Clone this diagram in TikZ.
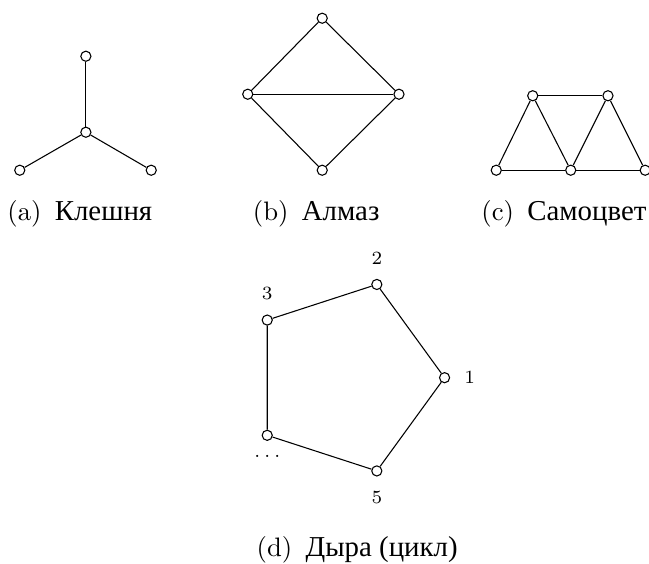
\documentclass[tikz,border=0pt]{standalone}
\usepackage{fontspec}
\newfontfamily\cyr[Scale=1.08]{Liberation Serif}
\usetikzlibrary{positioning, calc}
\tikzset{
	vtx/.style   ={circle, draw=black, fill=white, inner sep=0pt, minimum size=3.8pt},
	subcap/.style={font=\normalsize, inner sep=0pt},
	num/.style   ={font=\scriptsize},
}
\newcommand{\capt}[2]{(#1)\hspace{5pt}{\cyr #2}}

\begin{document}
\begin{tikzpicture}[label distance=1.8pt]
	\useasboundingbox (0,0) rectangle (8.54,7.42);
	% (a) claw
	\node[vtx] (k0) at (1.13,5.68) {};
	\node[vtx] (k1) at (1.13,6.68) {};
	\node[vtx] (k2) at (0.26,5.18) {};
	\node[vtx] (k3) at (1.99,5.18) {};
	\draw (k0) -- (k1);
	\draw (k0) -- (k2);
	\draw (k0) -- (k3);
	\node[subcap] (capa) at (1.05,4.60) {\capt{a}{Клешня}};
	% (b) diamond
	\node[vtx] (d1) at (4.24,7.18) {};
	\node[vtx] (d2) at (3.26,6.18) {};
	\node[vtx] (d3) at (5.25,6.18) {};
	\node[vtx] (d4) at (4.24,5.18) {};
	\draw (d1) -- (d2) -- (d4) -- (d3) -- (d1);
	\draw (d2) -- (d3);
	\node[subcap] (capb) at (4.16,4.60) {\capt{b}{Алмаз}};
	% (c) gem
	\node[vtx] (g1) at (6.53,5.18) {};
	\node[vtx] (g2) at (7.51,5.18) {};
	\node[vtx] (g3) at (8.49,5.18) {};
	\node[vtx] (g4) at (7.01,6.16) {};
	\node[vtx] (g5) at (8.00,6.16) {};
	\draw (g1) -- (g2) -- (g3);
	\draw (g4) -- (g5);
	\draw (g1) -- (g4) -- (g2) -- (g5) -- (g3);
	\node[subcap] (capc) at (7.42,4.60) {\capt{c}{Самоцвет}};
	% (d) hole
	\node[vtx, label={[num]right:1}]        (h1) at ($(4.56,2.45)+(0:1.29)$) {};
	\node[vtx, label={[num]above:2}]        (h2) at ($(4.56,2.45)+(72:1.29)$) {};
	\node[vtx, label={[num]above:3}]        (h3) at ($(4.56,2.45)+(144:1.29)$) {};
	\node[vtx, label={[num]below:$\ldots$}] (h4) at ($(4.56,2.45)+(216:1.29)$) {};
	\node[vtx, label={[num]below:5}]        (h5) at ($(4.56,2.45)+(288:1.29)$) {};
	\draw (h1) -- (h2) -- (h3) -- (h4) -- (h5) -- (h1);
	\node[subcap] (capd) at (4.70,0.18) {\capt{d}{Дыра (цикл)}};
\end{tikzpicture}
\end{document}
